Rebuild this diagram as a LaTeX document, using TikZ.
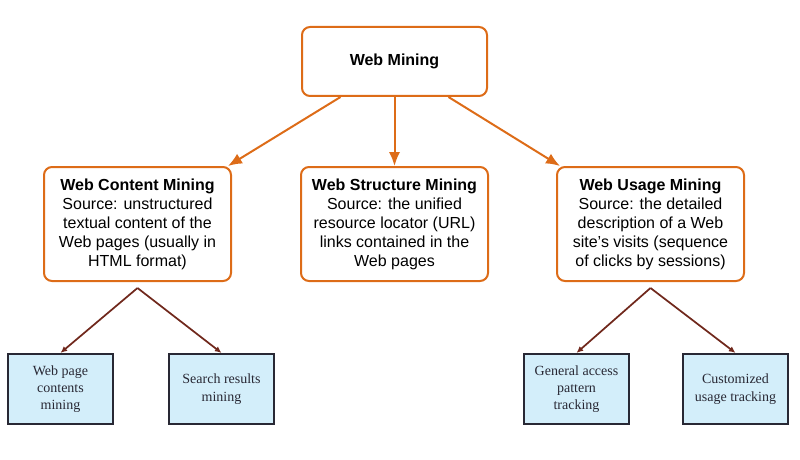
\documentclass[tikz,border=0pt]{standalone}
\usepackage{fontspec}
\usetikzlibrary{arrows.meta}
\setmainfont{Liberation Serif}
\setsansfont{Liberation Sans}
\definecolor{wmorange}{RGB}{221,108,24}
\definecolor{wmbrown}{RGB}{112,40,28}
\definecolor{wmblue}{RGB}{211,238,250}
\definecolor{wmdark}{RGB}{40,40,52}
\begin{document}
\begin{tikzpicture}[x=0.75pt, y=-0.75pt,
  mainbox/.style={rectangle, rounded corners=6pt, draw=wmorange, line width=1.5pt, fill=white, align=center, font=\sffamily\fontsize{12}{14.2}\selectfont},
  leafbox/.style={rectangle, draw=wmdark, line width=1.6pt, fill=wmblue, text=wmdark, align=center, minimum width=78.75pt, minimum height=52.5pt, font=\fontsize{10.5}{13}\selectfont},
  toparrow/.style={draw=wmorange, line width=1.5pt, -{Latex[length=10.5pt,width=8.5pt]}},
  leafarrow/.style={draw=wmbrown, line width=1.3pt, -{Latex[length=5pt,width=4.5pt]}}]
\useasboundingbox (0,0) rectangle (800,460);

\node [mainbox, minimum width=138.75pt, minimum height=51.75pt] (wm) at (394.5,61.5) {\textbf{Web Mining}};
\node [mainbox, minimum width=140.25pt, minimum height=85.5pt] (wcm) at (137.5,224) {\textbf{Web Content Mining}\\Source: unstructured\\textual content of the\\Web pages (usually in\\HTML format)};
\node [mainbox, minimum width=140.25pt, minimum height=85.5pt] (wsm) at (394.5,224) {\textbf{Web Structure Mining}\\Source: the unified\\resource locator (URL)\\links contained in the\\Web pages};
\node [mainbox, minimum width=140.25pt, minimum height=85.5pt] (wum) at (650.5,224) {\textbf{Web Usage Mining}\\Source: the detailed\\description of a Web\\site’s visits (sequence\\of clicks by sessions)};

\node [leafbox] (wpc) at (60.5,389) {Web page\\contents\\mining};
\node [leafbox] (srm) at (221.5,389) {Search results\\mining};
\node [leafbox] (gap) at (576.5,389) {General access\\pattern\\tracking};
\node [leafbox] (cut) at (735.5,389) {Customized\\usage tracking};

\draw [toparrow] ([xshift=-40.5pt]wm.south) -- ([xshift=-3pt]wcm.north east);
\draw [toparrow] (wm.south) -- (wsm.north);
\draw [toparrow] ([xshift=40.5pt]wm.south) -- ([xshift=3pt]wum.north west);
\draw [leafarrow] ([yshift=-4.5pt]wcm.south) -- (wpc.north);
\draw [leafarrow] ([yshift=-4.5pt]wcm.south) -- (srm.north);
\draw [leafarrow] ([yshift=-4.5pt]wum.south) -- (gap.north);
\draw [leafarrow] ([yshift=-4.5pt]wum.south) -- (cut.north);
\end{tikzpicture}
\end{document}
